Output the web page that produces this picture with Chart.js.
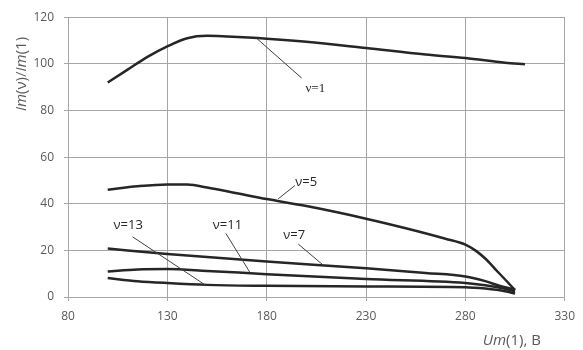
<!DOCTYPE html>
<html>
<head>
<meta charset="utf-8">
<script src="https://cdn.jsdelivr.net/npm/chart.js@4"></script>
<style>
  html, body { margin: 0; padding: 0; background: #fff; }
  #wrap { width: 583px; height: 350px; }
</style>
</head>
<body>
<div id="wrap"><canvas id="chart"></canvas></div>
<script>
// harmonic curves, Um(1) in volts on x
const x1 = [100, 110, 120, 130, 140, 150, 160, 180, 200, 230, 260, 280, 300, 310];
const y1 = [92, 97.5, 103, 107.5, 111, 112, 111.7, 110.8, 109.5, 106.8, 104, 102.5, 100.5, 99.8];

const x5 = [100, 115, 130, 140, 150, 165, 180, 200, 230, 250, 270, 280, 285, 290, 295, 300, 305];
const y5 = [46, 47.5, 48.3, 48.2, 47, 44.5, 42, 39, 33.6, 29.5, 25, 22.5, 20, 16.5, 12, 7.5, 3];

const x7 = [100, 130, 180, 230, 260, 280, 290, 298, 305];
const y7 = [20.8, 18.4, 15.2, 12.3, 10.3, 8.8, 6.8, 4.6, 3.2];

const x11 = [100, 115, 130, 150, 180, 230, 280, 290, 300, 305];
const y11 = [10.9, 11.8, 12.0, 11.2, 9.8, 7.7, 6.0, 5.0, 3.5, 2.3];

const x13 = [100, 115, 130, 150, 180, 230, 280, 290, 300, 305];
const y13 = [8.1, 6.8, 6.0, 5.2, 4.8, 4.5, 4.2, 3.6, 2.5, 1.5];

const xTicks = [80, 130, 180, 230, 280, 330];

function pts(xs, ys) {
  return xs.map((x, i) => ({ x: x, y: ys[i] }));
}

function curve(xs, ys) {
  return {
    data: pts(xs, ys),
    borderColor: '#262626',
    borderWidth: 2.5,
    pointRadius: 0,
    cubicInterpolationMode: 'monotone',
    fill: false
  };
}

// leader callouts: label text, where the line touches the curve, where it ends
const callouts = [
  { text: 'ν=1',  font: '13px "Liberation Serif"', from: [175, 110.9], to: [197.6, 93.9], at: [199.5, 89.2] },
  { text: 'ν=5',  font: '13px "Open Sans"', from: [185.8, 42.1], to: [194.2, 47.8], at: [194.4, 49.4] },
  { text: 'ν=7',  font: '13px "Open Sans"', from: [208.4, 13.7], to: [195.9, 22.7], at: [188.3, 26.6] },
  { text: 'ν=11', font: '13px "Open Sans"', from: [171.6, 10.5], to: [159.5, 27.2], at: [152.9, 30.9] },
  { text: 'ν=13', font: '13px "Open Sans"', from: [149, 5.2],    to: [112.5, 25.8], at: [102.9, 30.9] }
];

const extras = {
  id: 'extras',
  afterDatasetsDraw(chart) {
    const ctx = chart.ctx;
    const sx = chart.scales.x, sy = chart.scales.y;
    ctx.save();
    callouts.forEach(c => {
      ctx.strokeStyle = '#404040';
      ctx.lineWidth = 1;
      ctx.beginPath();
      ctx.moveTo(sx.getPixelForValue(c.from[0]), sy.getPixelForValue(c.from[1]));
      ctx.lineTo(sx.getPixelForValue(c.to[0]), sy.getPixelForValue(c.to[1]));
      ctx.stroke();
      ctx.fillStyle = '#262626';
      ctx.font = c.font;
      ctx.textAlign = 'left';
      ctx.textBaseline = 'middle';
      ctx.fillText(c.text, sx.getPixelForValue(c.at[0]), sy.getPixelForValue(c.at[1]));
    });

    // axis titles with italic parts
    const measure = (parts) => {
      let w = 0;
      parts.forEach(p => { ctx.font = p[1]; w += ctx.measureText(p[0]).width; });
      return w;
    };
    const it = 'italic 15px "Open Sans"';
    const nm = '15px "Open Sans"';
    ctx.fillStyle = '#595959';
    ctx.textBaseline = 'middle';
    ctx.textAlign = 'left';

    const yParts = [['Im', it], ['(ν)/', nm], ['Im', it], ['(1)', nm]];
    const yw = measure(yParts);
    ctx.translate(22, 74);
    ctx.rotate(-Math.PI / 2);
    let px = -yw / 2;
    yParts.forEach(p => { ctx.font = p[1]; ctx.fillText(p[0], px, 0); px += ctx.measureText(p[0]).width; });
    ctx.setTransform(1, 0, 0, 1, 0, 0);

    const xParts = [['Um', it], ['(1), В', nm]];
    const xw = measure(xParts);
    px = 541 - xw;
    xParts.forEach(p => { ctx.font = p[1]; ctx.fillText(p[0], px, 341); px += ctx.measureText(p[0]).width; });
    ctx.restore();
  }
};

new Chart(document.getElementById('chart'), {
  type: 'line',
  data: {
    datasets: [curve(x1, y1), curve(x5, y5), curve(x7, y7), curve(x11, y11), curve(x13, y13)]
  },
  options: {
    responsive: true,
    maintainAspectRatio: false,
    animation: false,
    layout: { padding: { top: 14, right: 18, left: 0, bottom: 0 } },
    plugins: { legend: { display: false }, tooltip: { enabled: false } },
    scales: {
      x: {
        type: 'linear',
        min: 80,
        max: 330,
        afterBuildTicks: (s) => { s.ticks = xTicks.map(v => ({ value: v })); },
        afterFit: (s) => { s.height = 53; },
        grid: { color: '#a6a6a6', lineWidth: 1, tickLength: 4 },
        border: { color: '#a6a6a6' },
        ticks: { color: '#595959', font: { family: 'Open Sans', size: 12 }, padding: 8, maxRotation: 0 }
      },
      y: {
        min: 0,
        max: 120,
        afterFit: (s) => { s.width = 68; },
        grid: { color: '#a6a6a6', lineWidth: 1, tickLength: 4 },
        border: { color: '#a6a6a6' },
        ticks: { stepSize: 20, color: '#595959', font: { family: 'Open Sans', size: 12 }, padding: 10 }
      }
    }
  },
  plugins: [extras]
});
</script>
</body>
</html>
